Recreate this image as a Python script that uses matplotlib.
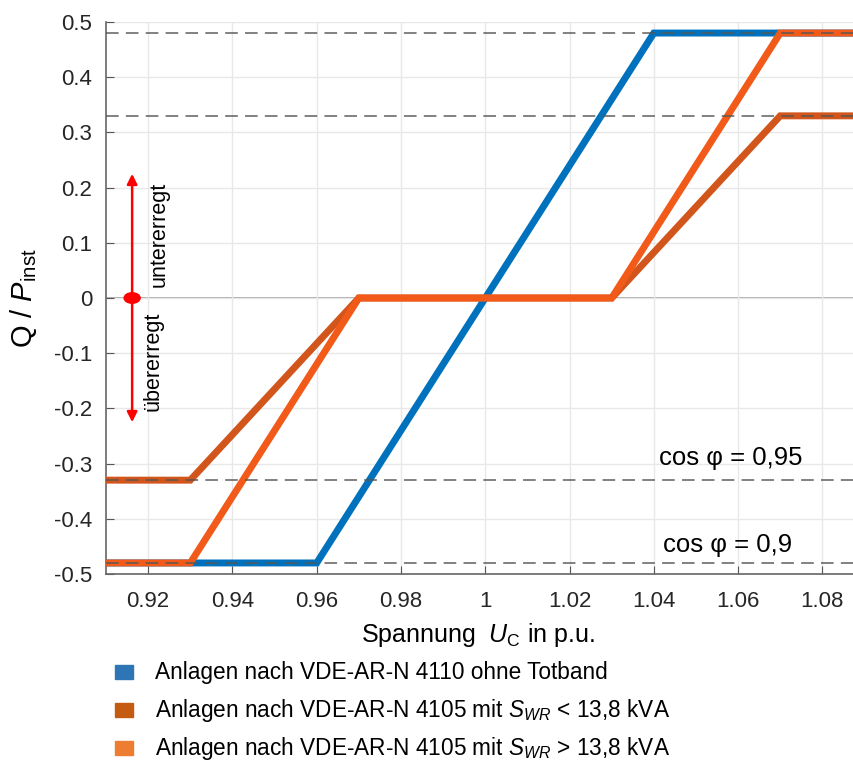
import matplotlib
matplotlib.use("Agg")
import matplotlib.pyplot as plt
from matplotlib.patches import Rectangle, Ellipse

plt.rcParams['font.family'] = ['Liberation Sans', 'DejaVu Sans']
plt.rcParams['mathtext.fontset'] = 'custom'
plt.rcParams['mathtext.rm'] = 'Liberation Sans'
plt.rcParams['mathtext.it'] = 'Liberation Sans:italic'

# Data
u_4110 = [0.91, 0.96, 1.04, 1.0875]
q_4110 = [-0.48, -0.48, 0.48, 0.48]
u_4105_small = [0.91, 0.93, 0.97, 1.03, 1.07, 1.0875]
q_4105_small = [-0.33, -0.33, 0.0, 0.0, 0.33, 0.33]
u_4105_large = [0.91, 0.93, 0.97, 1.03, 1.07, 1.0875]
q_4105_large = [-0.48, -0.48, 0.0, 0.0, 0.48, 0.48]
cos_limits = [0.48, 0.33, -0.33, -0.48]
arrow_x = 0.9162
arrow_top = 0.225
arrow_bottom = -0.225
x_ticks = [0.92, 0.94, 0.96, 0.98, 1.00, 1.02, 1.04, 1.06, 1.08]
x_ticklabels = ['0.92', '0.94', '0.96', '0.98', '1', '1.02', '1.04', '1.06', '1.08']
y_ticks = [-0.5, -0.4, -0.3, -0.2, -0.1, 0.0, 0.1, 0.2, 0.3, 0.4, 0.5]
y_ticklabels = ['-0.5', '-0.4', '-0.3', '-0.2', '-0.1', '0', '0.1', '0.2', '0.3', '0.4', '0.5']
legend_labels = ['Anlagen nach VDE-AR-N 4110 ohne Totband',
                 'Anlagen nach VDE-AR-N 4105 mit $S_{WR}$ < 13,8 kVA',
                 'Anlagen nach VDE-AR-N 4105 mit $S_{WR}$ > 13,8 kVA']
legend_colors = ['#2E75B6', '#C55A11', '#ED7D31']

c_blue = '#0072BD'
c_dark = '#D2561C'
c_red = '#F25A1A'

fig = plt.figure(figsize=(8.54, 7.6), dpi=100)
ax = fig.add_axes([106/854, 1-574/760, 1-106/854, (574-22)/760])
ax.set_xlim(0.91, 1.0875)
ax.set_ylim(-0.5, 0.5)

ax.grid(True, color='#e8e8e8', lw=1.0, zorder=0)
ax.axhline(0, color='#999999', lw=1.2, zorder=1)

ax.plot(u_4110, q_4110, color=c_blue, lw=5, solid_joinstyle='miter', zorder=3)
ax.plot(u_4105_small, q_4105_small, color=c_dark, lw=5, solid_joinstyle='miter', zorder=4)
ax.plot(u_4105_large, q_4105_large, color=c_red, lw=5, solid_joinstyle='miter', zorder=5)

for y in cos_limits:
    ax.axhline(y, color='#555555', lw=1.3, ls=(0, (7, 4)), alpha=0.8, zorder=6)

ax.text(1.0583, -0.29, 'cos φ = 0,95', ha='center', va='center', fontsize=18.5)
ax.text(1.0575, -0.447, 'cos φ = 0,9', ha='center', va='center', fontsize=18.5)

# arrows
ax.annotate('', xy=(arrow_x, arrow_top), xytext=(arrow_x, 0.0),
            arrowprops=dict(arrowstyle='-|>', color='red', lw=1.8, mutation_scale=15, shrinkA=0, shrinkB=0), zorder=7)
ax.annotate('', xy=(arrow_x, arrow_bottom), xytext=(arrow_x, 0.0),
            arrowprops=dict(arrowstyle='-|>', color='red', lw=1.8, mutation_scale=15, shrinkA=0, shrinkB=0), zorder=7)
ax.add_patch(Ellipse((arrow_x, 0.0), 0.0038, 0.019, color='red', zorder=8))
ax.text(0.9227, 0.02, 'untererregt', rotation=90, ha='center', va='bottom', fontsize=15.5)
ax.text(0.9212, -0.025, 'übererregt', rotation=90, ha='center', va='top', fontsize=15.5)

ax.set_xticks(x_ticks)
ax.set_xticklabels(x_ticklabels)
ax.set_yticks(y_ticks)
ax.set_yticklabels(y_ticklabels)
ax.tick_params(direction='in', length=6, labelsize=16, color='#555555', labelcolor='#262626')
ax.tick_params(axis='x', pad=12)
ax.tick_params(axis='y', pad=10)
for s in ['top', 'right']:
    ax.spines[s].set_visible(False)
for s in ['left', 'bottom']:
    ax.spines[s].set_color('#666666')
    ax.spines[s].set_linewidth(1.2)

ax.set_xlabel('Spannung  $U_{\\mathrm{C}}$ in p.u.', fontsize=18)
ax.xaxis.set_label_coords(0.497, -0.085)
ax.set_ylabel('Q / $P_{\\mathrm{inst}}$', fontsize=21)
ax.yaxis.set_label_coords(-0.09, 0.5)

# legend below
ys = [672, 710, 748]
for lab, col, yp in zip(legend_labels, legend_colors, ys):
    fig.patches.append(Rectangle((115/854, 1-(yp+7)/760), 18/854, 14/760,
                                 transform=fig.transFigure, color=col, figure=fig))
    fig.text(155/854, 1-yp/760, lab, ha='left', va='center', fontsize=16.3)

fig.savefig('out.png', dpi=100)
